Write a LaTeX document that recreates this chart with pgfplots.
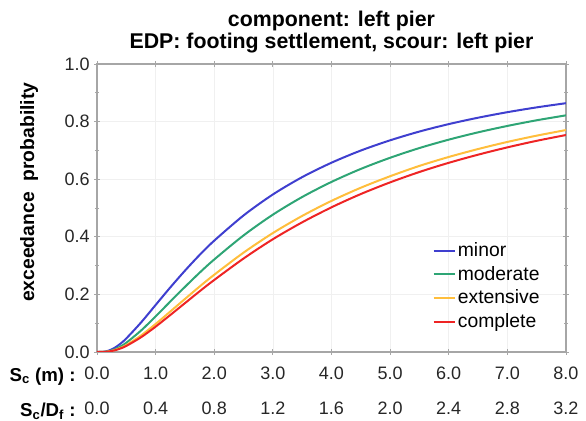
\documentclass[border=0pt]{standalone}
\usepackage{fontspec}
\setmainfont{Liberation Sans}
\usepackage{pgfplots}
\pgfplotsset{compat=1.18}
\usepackage{pgfplotstable}

\definecolor{cminor}{HTML}{3F3FCF}
\definecolor{cmod}{HTML}{2EA575}
\definecolor{cext}{HTML}{FFBE3C}
\definecolor{ccomp}{HTML}{EE2424}
\definecolor{axgray}{HTML}{A6A6A6}

% settlement (m) vs exceedance probability
\pgfplotstableread{
x     minor   moderate extensive complete
0.00  0.0000  0.0000  0.0000  0.0000
0.10  0.0005  0.0003  0.0002  0.0002
0.20  0.0048  0.0028  0.0020  0.0017
0.30  0.0144  0.0091  0.0066  0.0057
0.40  0.0289  0.0191  0.0141  0.0122
0.50  0.0471  0.0322  0.0241  0.0211
0.75  0.1022  0.0742  0.0572  0.0510
1.00  0.1633  0.1236  0.0973  0.0880
1.25  0.2242  0.1752  0.1405  0.1284
1.50  0.2823  0.2260  0.1841  0.1696
1.75  0.3369  0.2753  0.2272  0.2107
2.00  0.3867  0.3213  0.2683  0.2502
2.50  0.4741  0.4048  0.3450  0.3246
3.00  0.5470  0.4769  0.4130  0.3916
3.50  0.6072  0.5382  0.4725  0.4503
4.00  0.6573  0.5906  0.5247  0.5024
4.50  0.6995  0.6357  0.5704  0.5485
5.00  0.7350  0.6744  0.6103  0.5890
5.50  0.7655  0.7082  0.6462  0.6251
6.00  0.7913  0.7373  0.6772  0.6569
6.50  0.8135  0.7627  0.7047  0.6851
7.00  0.8327  0.7849  0.7294  0.7105
7.50  0.8494  0.8046  0.7512  0.7333
8.00  0.8639  0.8217  0.7707  0.7534
}\fragility

\begin{document}
\begin{tikzpicture}
\useasboundingbox (-72.75pt,-51.75pt) rectangle (366.75pt,264pt);
\begin{axis}[
    name=ax, at={(0,0)}, anchor=south west,
    scale only axis, width=351.75pt, height=216pt,
    xmin=0, xmax=8, ymin=0, ymax=1,
    xtick={0,1,...,8},
    xticklabels={{0.0\\0.0},{1.0\\0.4},{2.0\\0.8},{3.0\\1.2},{4.0\\1.6},
                 {5.0\\2.0},{6.0\\2.4},{7.0\\2.8},{8.0\\3.2}},
    xticklabel style={align=center, font=\fontsize{13.5}{26}\selectfont,
                      text=black!85, yshift=-6pt},
    ytick={0,0.2,...,1.0},
    minor ytick={0.1,0.3,...,0.9},
    yticklabel style={/pgf/number format/fixed, /pgf/number format/fixed zerofill,
                      /pgf/number format/precision=1,
                      /pgf/number format/assume math mode=true,
                      font=\fontsize{13.5}{16}\selectfont, text=black!85},
    tick align=center, major tick length=4pt, minor tick length=3pt,
    tick style={axgray, line width=0.6pt},
    axis line style={axgray, line width=0.8pt},
    grid=major, major grid style={black!6, line width=0.5pt},
    ylabel={exceedance\ \ probability},
    ylabel style={font=\bfseries\fontsize{14.5}{16}\selectfont,
                  at={(ticklabel cs:0.555)}, yshift=13pt},
    title={component: left pier\\EDP: footing settlement, scour: left pier},
    title style={align=center, font=\bfseries\fontsize{16}{16.5}\selectfont,
                 yshift=-1pt},
    legend style={draw=none, fill=none, at={(rel axis cs:0.712,0.395)},
                  anchor=north west, font=\fontsize{14.5}{16}\selectfont,
                  row sep=1.8pt, inner sep=1pt,
                  nodes={inner xsep=1.5pt},
                  /tikz/every even column/.append style={column sep=0pt}},
    legend cell align=left,
    legend image code/.code={\draw[#1] (0pt,0pt) -- (16pt,0pt);},
    every axis plot/.append style={line width=1.5pt, smooth},
]
\addplot[cminor] table[x=x, y=minor] {\fragility};
\addplot[cmod]   table[x=x, y=moderate] {\fragility};
\addplot[cext]   table[x=x, y=extensive] {\fragility};
\addplot[ccomp]  table[x=x, y=complete] {\fragility};
\legend{minor, moderate, extensive, complete}
\end{axis}
\node[anchor=east, font=\bfseries\fontsize{14}{16}\selectfont]
  at ([xshift=-12.5pt, yshift=-18.2pt]ax.south west)
  {S\textsubscript{c} (m) :};
\node[anchor=east, font=\bfseries\fontsize{14}{16}\selectfont]
  at ([xshift=-12.5pt, yshift=-44.4pt]ax.south west)
  {S\textsubscript{c}/D\textsubscript{f} :};
\end{tikzpicture}
\end{document}
